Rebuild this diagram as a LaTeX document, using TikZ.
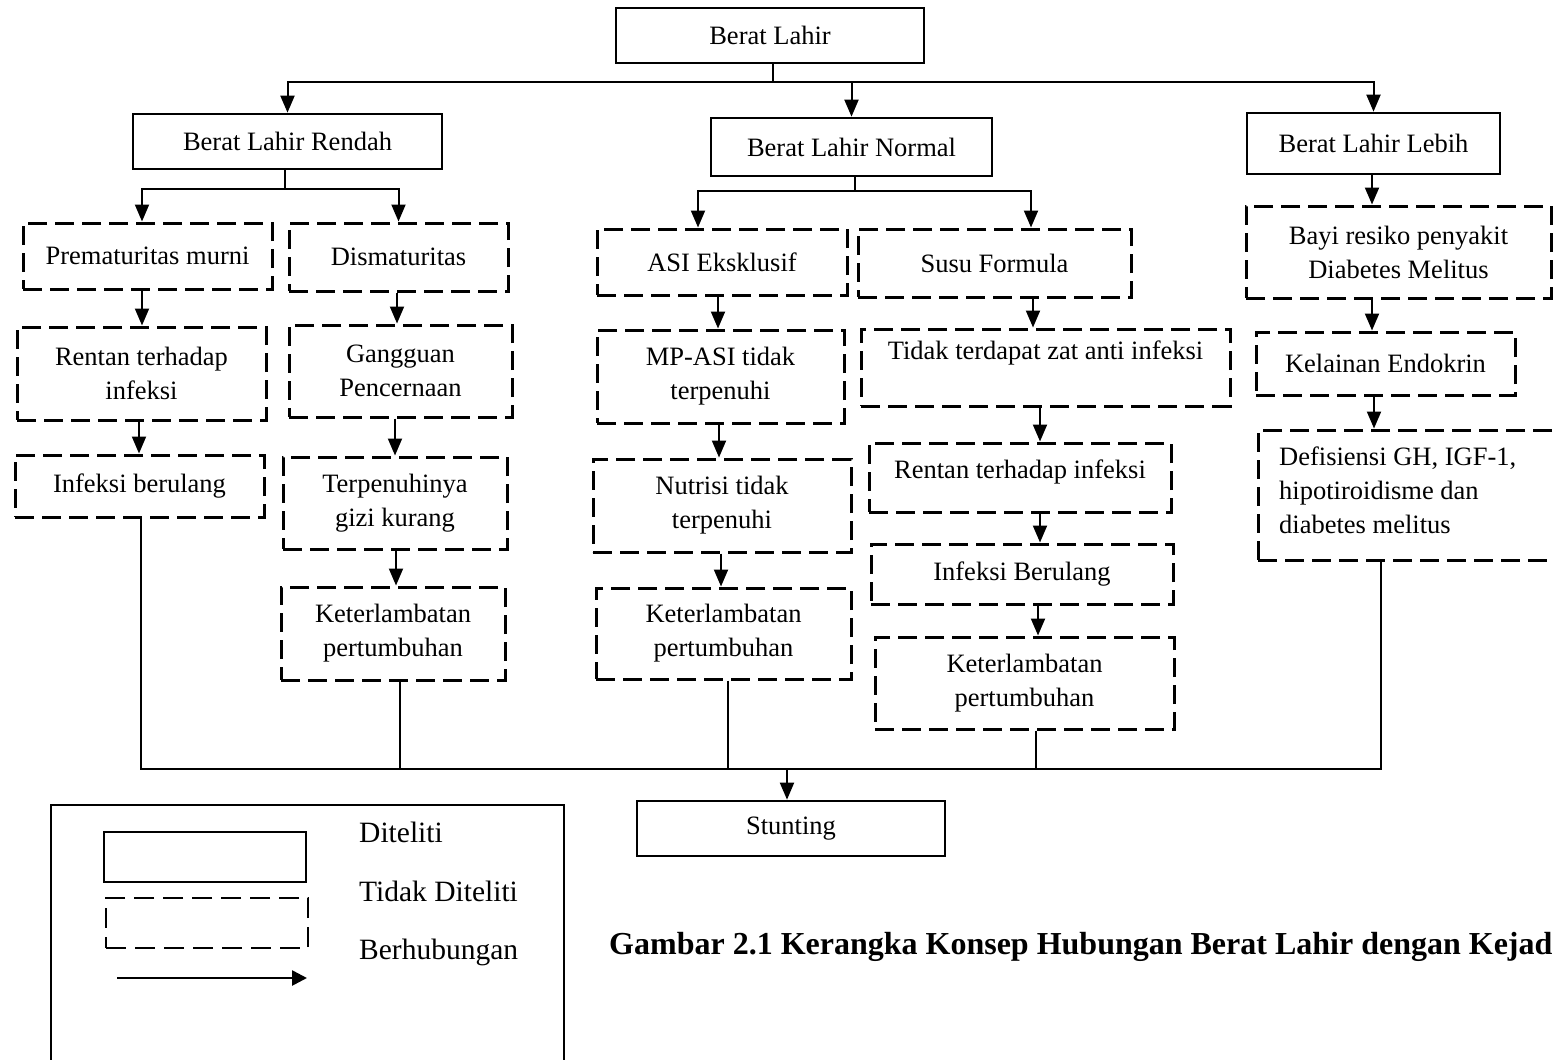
\documentclass[tikz,border=0pt]{standalone}
\usepackage{fontspec}
\setmainfont{Liberation Serif}
\usetikzlibrary{arrows.meta}
\newcommand\tf{\fontsize{26.5}{34}\selectfont}
\newcommand\lf{\fontsize{29.5}{34}\selectfont}
\newcommand\cf{\fontsize{32}{38}\selectfont\bfseries}
\newcommand\vlink[3]{\path ([xshift=#3pt]#1.south) coordinate (tmpa); \draw[arr] (tmpa) -- (tmpa |- #2.north);}
\newcommand\dlink[2]{\path ([xshift=#2pt]#1.south) coordinate (tmpb); \draw[thinl] (tmpb) -- (tmpb |- jb);}
\begin{document}
\begin{tikzpicture}[x=1pt,y=-1pt,
 sbox/.style={draw, line width=2.7pt, inner sep=0pt, align=center, font=\tf},
 dbox/.style={draw, line width=3pt, dash pattern=on 19pt off 8pt, inner sep=0pt, align=center, font=\tf},
 arr/.style={line width=2pt, -{Triangle[length=17pt,width=14pt]}},
 thinl/.style={line width=1.3pt},
 sz/.style 2 args={minimum width=#1pt, minimum height=#2pt}]
\useasboundingbox (0,0) rectangle (1553,1060);
\clip (0,0) rectangle (1553,1060);
\fill[white] (0,0) rectangle (1553,1060);

% solid boxes
\node[sbox, sz={308}{55}] (bl) at (770,35.5) {Berat Lahir};
\node[sbox, sz={309}{55}] (blr) at (287.5,141.5) {Berat Lahir Rendah};
\node[sbox, sz={281}{58}] (bln) at (851.5,147) {Berat Lahir Normal};
\node[sbox, sz={253}{61}] (bll) at (1373.5,143.5) {Berat Lahir Lebih};
\node[sbox, sz={308}{55}] (stn) at (791,828.5) {Stunting};

% dashed boxes
\node[dbox, sz={249}{66}] (pm) at (147.5,256) {Prematuritas murni};
\node[dbox, sz={219}{68}] (dis) at (398.5,257) {Dismaturitas};
\node[dbox, sz={250}{66}] (asi) at (722,262) {ASI Eksklusif};
\node[dbox, sz={273}{68}] (susu) at (994.5,263) {Susu Formula};
\node[dbox, sz={305}{92}] (bayi) at (1398.5,252) {Bayi resiko penyakit\\Diabetes Melitus};
\node[dbox, sz={249}{93}] (ren1) at (141.5,373.5) {Rentan terhadap\\infeksi};
\node[dbox, sz={223}{92}] (gang) at (400.5,371) {Gangguan\\Pencernaan};
\node[dbox, sz={247}{93}] (mpasi) at (720.5,376.5) {MP-ASI tidak\\terpenuhi};
\node[dbox, sz={369}{77}] (tdk) at (1045.5,367.5) {Tidak terdapat zat anti infeksi\\\mbox{}};
\node[dbox, sz={259}{63}] (kel) at (1385.5,363.5) {Kelainan Endokrin};
\node[dbox, sz={249}{62}] (inf1) at (139.5,486) {Infeksi berulang};
\node[dbox, sz={224}{92}] (terp) at (395,503) {Terpenuhinya\\gizi kurang};
\node[dbox, sz={258}{93}] (nutr) at (722,505.5) {Nutrisi tidak\\terpenuhi};
\node[dbox, sz={302}{69}, text depth=16pt] (ren2) at (1020,477.5) {Rentan terhadap infeksi};
\node[dbox, sz={352}{130}] (def) at (1434,495) {};
\node[font=\tf, align=left, anchor=west, inner sep=0pt] (deft) at (1279,490) {Defisiensi GH, IGF-1,\\hipotiroidisme dan\\diabetes melitus};
\node[dbox, sz={302}{60}] (inf2) at (1022,574) {Infeksi Berulang};
\node[dbox, sz={224}{93}] (ket1) at (393,633.5) {Keterlambatan\\pertumbuhan};
\node[dbox, sz={255}{91}] (ket2) at (723.5,633.5) {Keterlambatan\\pertumbuhan};
\node[dbox, sz={299}{92}] (ket3) at (1024.5,683) {Keterlambatan\\pertumbuhan};

% top tree
\coordinate (j0) at (773,82);
\draw[thinl] (j0 |- bl.south) -- (j0);
\draw[arr] (j0) -| (blr.north);
\draw[arr] (j0) -| (bln.north);
\draw[arr] (j0) -| (bll.north);

\coordinate (j1) at (285,189);
\draw[thinl] (j1 |- blr.south) -- (j1);
\path ([xshift=-5.5pt]pm.north) coordinate (pmn);
\draw[arr] (j1) -| (pmn);
\draw[arr] (j1) -| (dis.north);

\coordinate (j2) at (855,191);
\draw[thinl] (j2 |- bln.south) -- (j2);
\path ([xshift=-24pt]asi.north) coordinate (asin);
\path ([xshift=36.5pt]susu.north) coordinate (susun);
\draw[arr] (j2) -| (asin);
\draw[arr] (j2) -| (susun);

% vertical chains
\vlink{bll}{bayi}{-1.5}
\vlink{pm}{ren1}{-5.5}
\vlink{ren1}{inf1}{-2.5}
\vlink{dis}{gang}{-1.5}
\vlink{gang}{terp}{-5.5}
\vlink{terp}{ket1}{1}
\vlink{asi}{mpasi}{-4}
\vlink{mpasi}{nutr}{-1.5}
\vlink{nutr}{ket2}{-1}
\vlink{susu}{tdk}{38.5}
\vlink{tdk}{ren2}{-5.5}
\vlink{ren2}{inf2}{20}
\vlink{inf2}{ket3}{16}
\vlink{bayi}{kel}{-26.5}
\vlink{kel}{def}{-11.5}

% bottom collector
\coordinate (jb) at (787,769);
\path ([xshift=1.5pt]inf1.south) coordinate (i1s);
\draw[thinl] (i1s) |- (jb);
\path ([xshift=-53pt]def.south) coordinate (dfs);
\draw[thinl] (dfs) |- (jb);
\dlink{ket1}{7}
\dlink{ket2}{4.5}
\dlink{ket3}{11.5}
\path ([xshift=-4pt]stn.north) coordinate (stnn);
\draw[arr] (jb) -- (stnn);

% legend
\draw[line width=2.2pt] (51,805) rectangle (564,1120);
\node[sbox, sz={202}{50}] (lgs) at (205,857) {};
\node[draw, line width=2.4pt, dash pattern=on 20pt off 9pt, sz={202}{50}] (lgd) at (207,923) {};
\coordinate (la1) at (117,978);
\coordinate (la2) at (307,978);
\draw[line width=2.6pt, -{Triangle[length=15pt,width=15pt]}] (la1) -- (la2);
\node[font=\lf, anchor=west, inner sep=0pt] (t1) at (359,832) {Diteliti};
\node[font=\lf, anchor=west, inner sep=0pt] (t2) at (359,891) {Tidak Diteliti};
\node[font=\lf, anchor=west, inner sep=0pt] (t3) at (359,952) {Berhubungan};

% caption
\node[font=\cf, anchor=west, inner sep=0pt] (cap) at (609,947) {Gambar 2.1 Kerangka Konsep Hubungan Berat Lahir dengan Kejad};
\end{tikzpicture}
\end{document}
